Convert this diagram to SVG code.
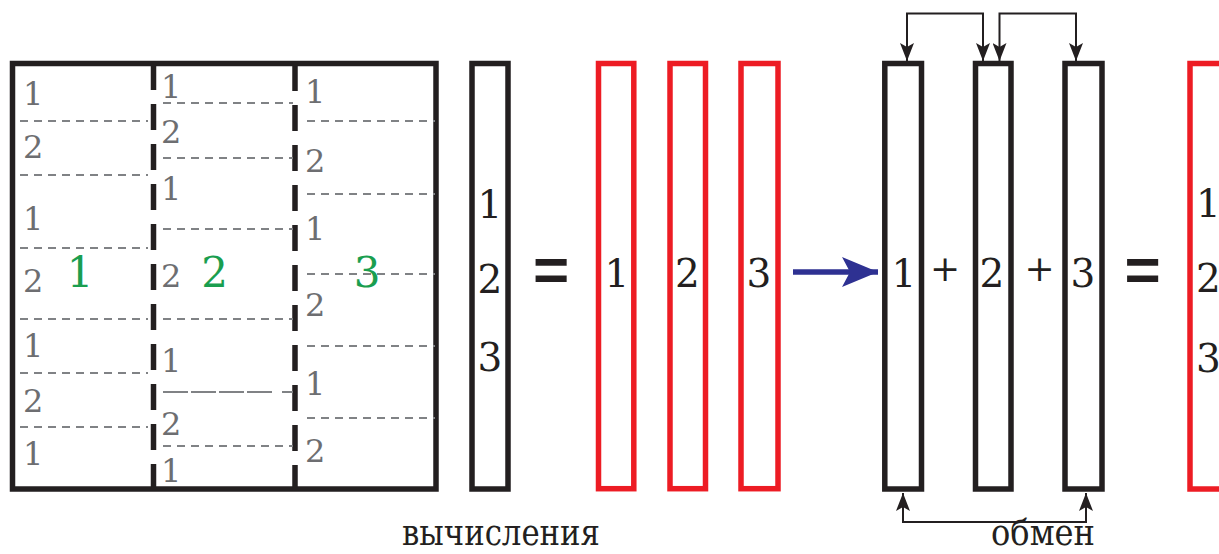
<svg xmlns="http://www.w3.org/2000/svg" width="1219" height="554" viewBox="0 0 1219 554">
<style>
.blk{fill:none;stroke:#231f20;stroke-width:5.5}
.red{fill:none;stroke:#ed1c24;stroke-width:5.5}
.div{stroke:#231f20;stroke-width:5.5;stroke-dasharray:26 14}
.hl{stroke:#808285;stroke-width:2;stroke-dasharray:8 6}
text{font-family:'DejaVu Serif','Liberation Serif',serif}
.g{font-size:32px;fill:#6d6e71}
.gr{font-size:42px;fill:#1a9e4f;text-anchor:middle}
.d{font-size:39px;fill:#231f20;text-anchor:middle}
.op{font-size:36px;fill:#231f20;text-anchor:middle}
.eq{font-family:'Liberation Sans',Arial,sans-serif;font-weight:bold;font-size:62px;fill:#231f20;text-anchor:middle}
.lbl{font-size:35px;fill:#231f20}
.arr{fill:none;stroke:#231f20;stroke-width:2;marker-start:url(#ah);marker-end:url(#ah)}
</style>
<defs>
<marker id="ah" markerUnits="userSpaceOnUse" viewBox="0 0 18 14" markerWidth="18" markerHeight="14" refX="18" refY="7" orient="auto-start-reverse">
<path d="M0,0 L18,7 L0,14 L4,7 z" fill="#231f20"/>
</marker>
<marker id="bh" markerUnits="userSpaceOnUse" viewBox="0 0 36 30" markerWidth="36" markerHeight="30" refX="36" refY="15" orient="auto">
<path d="M0,0 L36,15 L0,30 L8,15 z" fill="#2e3192"/>
</marker>
</defs>

<g id="matrix">
<rect class="blk" x="12.5" y="63.5" width="423.5" height="425.5"/>
<line class="div" x1="153.5" y1="64" x2="153.5" y2="489"/>
<line class="div" x1="295" y1="65" x2="295" y2="489"/>
<g>
<line class="hl" x1="20" y1="121" x2="148" y2="121"/>
<line class="hl" x1="20" y1="175" x2="148" y2="175"/>
<line class="hl" x1="20" y1="248" x2="148" y2="248"/>
<line class="hl" x1="20" y1="319" x2="148" y2="319"/>
<line class="hl" x1="20" y1="373" x2="148" y2="373"/>
<line class="hl" x1="20" y1="427" x2="148" y2="427"/>
<line class="hl" x1="163" y1="103" x2="293" y2="103"/>
<line class="hl" x1="163" y1="158" x2="293" y2="158"/>
<line class="hl" x1="163" y1="229" x2="293" y2="229"/>
<line class="hl" x1="163" y1="319" x2="293" y2="319"/>
<line class="hl" x1="163" y1="392" x2="293" y2="392" style="stroke-dasharray:25 3 25 3 25 3 25 10"/>
<line class="hl" x1="163" y1="446" x2="293" y2="446"/>
<line class="hl" x1="307" y1="121" x2="435" y2="121"/>
<line class="hl" x1="307" y1="194" x2="435" y2="194"/>
<line class="hl" x1="307" y1="274" x2="435" y2="274"/>
<line class="hl" x1="307" y1="346" x2="435" y2="346"/>
<line class="hl" x1="307" y1="418" x2="435" y2="418"/>
</g>
<g>
<text class="g" x="23" y="105">1</text>
<text class="g" x="23" y="158">2</text>
<text class="g" x="23" y="230">1</text>
<text class="g" x="23" y="292">2</text>
<text class="g" x="23" y="357">1</text>
<text class="g" x="23" y="412">2</text>
<text class="g" x="23" y="465">1</text>
<text class="g" x="161" y="98">1</text>
<text class="g" x="161" y="143">2</text>
<text class="g" x="161" y="200">1</text>
<text class="g" x="161" y="287">2</text>
<text class="g" x="161" y="372">1</text>
<text class="g" x="161" y="435">2</text>
<text class="g" x="161" y="482">1</text>
<text class="g" x="305" y="103">1</text>
<text class="g" x="305" y="172">2</text>
<text class="g" x="305" y="240">1</text>
<text class="g" x="305" y="316">2</text>
<text class="g" x="305" y="395">1</text>
<text class="g" x="305" y="462">2</text>
<text class="gr" x="80" y="287">1</text>
<text class="gr" x="214.5" y="287">2</text>
<text class="gr" x="367" y="287">3</text>
</g>
</g>

<g id="vector">
<rect class="blk" x="472" y="63.5" width="36" height="425.5"/>
<text class="d" x="490" y="218">1</text>
<text class="d" x="490" y="293">2</text>
<text class="d" x="490" y="371">3</text>
</g>

<text id="eq1" class="eq" x="551" y="291">=</text>

<g id="red1">
<rect class="red" x="598.5" y="63.5" width="35.3" height="425.2"/>
<text class="d" x="617" y="287">1</text>
</g>
<g id="red2">
<rect class="red" x="670" y="63.5" width="35.5" height="425.2"/>
<text class="d" x="687.5" y="287">2</text>
</g>
<g id="red3">
<rect class="red" x="741" y="63.5" width="37" height="425.2"/>
<text class="d" x="759" y="287">3</text>
</g>

<g id="sum1">
<rect class="blk" x="884.8" y="63.5" width="36.7" height="425.5"/>
<text class="d" x="904" y="287">1</text>
</g>
<text id="plus1" class="op" x="945" y="281">+</text>
<g id="sum2">
<rect class="blk" x="975.5" y="63.5" width="35.5" height="425.5"/>
<text class="d" x="992" y="287">2</text>
</g>
<text id="plus2" class="op" x="1039.5" y="281">+</text>
<g id="sum3">
<rect class="blk" x="1065" y="63.5" width="37" height="425.5"/>
<text class="d" x="1083" y="287">3</text>
</g>

<text id="eq2" class="eq" x="1142.5" y="291">=</text>

<g id="result">
<rect class="red" x="1190" y="63.5" width="60" height="425.5"/>
<text class="d" x="1196" y="217" style="text-anchor:start">1</text>
<text class="d" x="1196" y="292" style="text-anchor:start">2</text>
<text class="d" x="1196" y="372" style="text-anchor:start">3</text>
</g>

<g id="connectors">
<path d="M793,272 H878" fill="none" stroke="#2e3192" stroke-width="5.5" marker-end="url(#bh)"/>
<path class="arr" d="M907,61 V13.5 H983 V61"/>
<path class="arr" d="M999.5,61 V13.5 H1076 V61"/>
<path class="arr" d="M903,493 V522 H1086 V493"/>
</g>

<text id="lbl-calc" class="lbl" x="402" y="545" textLength="198" lengthAdjust="spacingAndGlyphs">вычисления</text>
<text id="lbl-exch" class="lbl" x="991" y="545" textLength="104" lengthAdjust="spacingAndGlyphs">обмен</text>
</svg>
